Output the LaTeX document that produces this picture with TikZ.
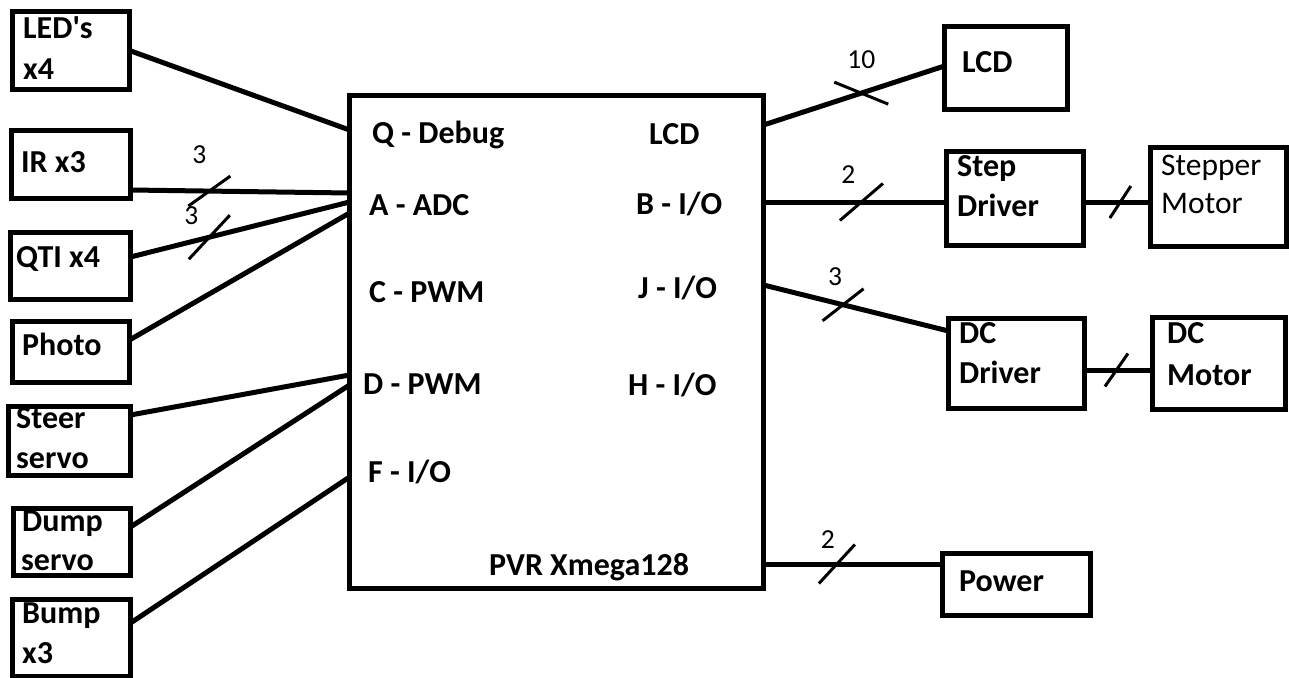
\documentclass[tikz,border=0pt]{standalone}
\usepackage{fontspec}
\setmainfont{Carlito}
\usetikzlibrary{calc}
\newcommand{\mkbox}[5]{\node[blk, minimum width={#4-#2-5}, minimum height={#5-#3-5}] (#1) at ({(#2+#4)/2},{(#3+#5)/2}) {};}
\begin{document}
\begin{tikzpicture}[x=1pt,y=-1pt,
  blk/.style={draw, line width=5pt, inner sep=0pt, outer sep=0pt},
  wire/.style={line width=5pt},
  slashln/.style={line width=3pt},
  lbl/.style={anchor=base west, inner sep=0pt, font=\fontsize{32}{38}\selectfont\bfseries},
  rlbl/.style={anchor=base west, inner sep=0pt, font=\fontsize{31.5}{38}\selectfont},
  num/.style={anchor=base, inner sep=0pt, font=\fontsize{27.5}{32}\selectfont}]
\useasboundingbox (0,0) rectangle (1289,677);
% boxes
\mkbox{led}{10}{9}{132}{92}
\mkbox{ir}{9}{128}{133}{201}
\mkbox{qti}{8}{230}{133}{302}
\mkbox{photo}{10}{319}{132}{385}
\mkbox{steer}{6}{404}{133}{478}
\mkbox{dump}{11}{506}{133}{578}
\mkbox{bump}{10}{597}{133}{679}
\mkbox{main}{347}{93}{766}{591}
\mkbox{lcd}{942}{24}{1070}{112}
\mkbox{stepdrv}{944}{149}{1086}{248}
\mkbox{stepper}{1148}{145}{1289}{249}
\mkbox{dcdrv}{946}{316}{1087}{411}
\mkbox{dcmot}{1150}{315}{1288}{412}
\mkbox{power}{940}{551}{1093}{618}
% box texts
\node[lbl] (tled1) at (23,39) {LED\textquotesingle s};
\node[lbl] (tled2) at (23,79) {x4};
\node[lbl] (tir) at (21,172) {IR x3};
\node[lbl] (tqti) at (16,267) {QTI x4};
\node[lbl] (tphoto) at (22,355) {Photo};
\node[lbl] (tsteer1) at (16,428) {Steer};
\node[lbl] (tsteer2) at (16,468) {servo};
\node[lbl] (tdump1) at (22,531) {Dump};
\node[lbl] (tdump2) at (21,570) {servo};
\node[lbl] (tbump1) at (22,623) {Bump};
\node[lbl] (tbump2) at (22,663) {x3};
\node[lbl] (tq) at (372,143) {Q - Debug};
\node[lbl] (ta) at (369,215) {A - ADC};
\node[lbl] (tc) at (369,302) {C - PWM};
\node[lbl] (td) at (363,394) {D - PWM};
\node[lbl] (tf) at (368,482) {F - I/O};
\node[lbl] (tpvr) at (489,575) {PVR Xmega128};
\node[lbl] (tlcdpin) at (649,144) {LCD};
\node[lbl] (tb) at (636,214) {B - I/O};
\node[lbl] (tj) at (638,298) {J - I/O};
\node[lbl] (th) at (628,395) {H - I/O};
\node[lbl] (tlcd) at (962,73) {LCD};
\node[lbl] (tstep1) at (957,176) {Step};
\node[lbl] (tstep2) at (957,216) {Driver};
\node[rlbl] (tstm1) at (1161,175) {Stepper};
\node[rlbl] (tstm2) at (1161,213) {Motor};
\node[lbl] (tdcd1) at (959,343) {DC};
\node[lbl] (tdcd2) at (959,383) {Driver};
\node[lbl] (tdcm1) at (1167,343) {DC};
\node[lbl] (tdcm2) at (1167,385) {Motor};
\node[lbl] (tpow) at (959,591) {Power};
% left connectors
\draw[wire] (led.east) -- (main.west |- 0,130);
\draw[wire] (ir.east |- 0,190) -- coordinate[pos=0.36] (kir) (main.west |- 0,193);
\draw[wire] (qti.east |- 0,257) -- coordinate[pos=0.36] (kqti) (main.west |- 0,202);
\draw[wire] (photo.east |- 0,340) -- (main.west |- 0,213);
\draw[wire] (steer.east |- 0,415) -- (main.west |- 0,375);
\draw[wire] (dump.east |- 0,527) -- (main.west |- 0,385);
\draw[wire] (bump.east |- 0,623) -- (main.west |- 0,477);
% right connectors
\draw[wire] (main.east |- 0,125) -- coordinate[pos=0.54] (klcd) (lcd.west |- 0,66);
\draw[wire] (main.east |- 0,202) -- coordinate[pos=0.535] (kstep) (stepdrv.west |- 0,202);
\draw[wire] (stepdrv.east |- 0,202) -- coordinate[pos=0.55] (kstm) (stepper.west |- 0,202);
\draw[wire] (main.east |- 0,285) -- coordinate[pos=0.43] (kj) (dcdrv.west |- 0,331);
\draw[wire] (dcdrv.east |- 0,370) -- coordinate[pos=0.47] (kdc) (dcmot.west |- 0,370);
\draw[wire] (main.east |- 0,564) -- coordinate[pos=0.41] (kpow) (power.west |- 0,564);
% bus slashes
\draw[slashln] ($(kir)+(-21,15)$) -- ($(kir)+(21,-15)$);
\draw[slashln] ($(kqti)+(-20.5,22)$) -- ($(kqti)+(20.5,-22)$);
\draw[slashln] ($(klcd)+(-27,-11)$) -- ($(klcd)+(27,11)$);
\draw[slashln] ($(kstep)+(-21.5,18.5)$) -- ($(kstep)+(21.5,-18.5)$);
\draw[slashln] ($(kstm)+(-10.5,16)$) -- ($(kstm)+(10.5,-16)$);
\draw[slashln] ($(kj)+(-20.5,16)$) -- ($(kj)+(20.5,-16)$);
\draw[slashln] ($(kdc)+(-11.5,16.5)$) -- ($(kdc)+(11.5,-16.5)$);
\draw[slashln] ($(kpow)+(-18,19.5)$) -- ($(kpow)+(18,-19.5)$);
% bus widths
\node[num] (nir) at ($(kir)+(-10,-28)$) {3};
\node[num] (nqti) at ($(kqti)+(-18,-13)$) {3};
\node[num] (nlcd) at ($(klcd)+(0,-25)$) {10};
\node[num] (nstep) at ($(kstep)+(-13,-19)$) {2};
\node[num] (nj) at ($(kj)+(-8,-19)$) {3};
\node[num] (npow) at ($(kpow)+(-9,-16)$) {2};
\end{tikzpicture}
\end{document}
